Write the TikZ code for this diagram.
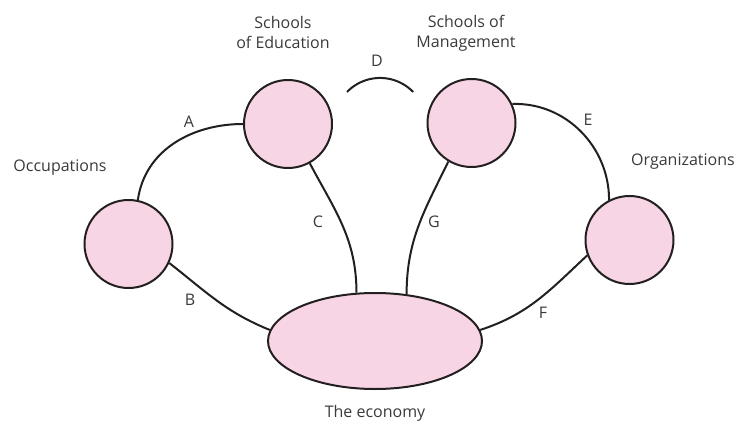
\documentclass[tikz,border=0pt]{standalone}
\usepackage{fontspec}
\setmainfont{Open Sans}
\usetikzlibrary{shapes.geometric}
\definecolor{pinkfill}{HTML}{F8D5E5}
\definecolor{txt}{HTML}{3A3A3A}
\definecolor{ink}{HTML}{231F20}
\begin{document}
\begin{tikzpicture}[x=1pt,y=-1pt,
  ball/.style={circle,draw=ink,line width=2pt,fill=pinkfill,minimum size=88pt,inner sep=0pt},
  eco/.style={ellipse,draw=ink,line width=2pt,fill=pinkfill,minimum width=214pt,minimum height=96pt,inner sep=0pt},
  link/.style={draw=ink,line width=2pt},
  lbl/.style={text=txt,font=\fontsize{16}{20}\selectfont,inner sep=0pt},
  captext/.style={text=txt,font=\fontsize{16}{20}\selectfont,align=center,inner sep=0pt}]
\useasboundingbox (0,0) rectangle (752,425);
\node[ball] (occ) at (128.5,244) {};
\node[ball] (soe) at (288,124) {};
\node[ball] (som) at (471.5,123) {};
\node[ball] (org) at (629.5,240) {};
\node[eco] (ec) at (375,341) {};
% captions
\node[captext] (tsoe) at (283,33) {Schools\\of Education};
\node[captext] (tsom) at (466,33) {Schools of\\Management};
\node[captext] (tocc) at (60,168) {Occupations};
\node[captext] (torg) at (683,162) {Organizations};
\node[captext] (tec) at (375,413) {The economy};
% connectors
\draw[link] (occ.78) to[out=82,in=180] (soe.180);
\draw[link] (occ.-25) to[out=-38,in=158] (ec.174);
\draw[link] (soe.-61) to[out=-62,in=90] (ec.111);
\draw[link] (som.-121) to[out=-116,in=90] (ec.56);
\draw[link] (som.25) to[out=2,in=90] (org.117);
\draw[link] (ec.6) to[out=18,in=-137] (org.-160);
\coordinate (d1) at (347,92);
\draw[link] (d1) arc[start angle=-136,end angle=-44,radius=46] coordinate (d2);
% labels
\node[lbl] (la) at (189,122) {A};
\node[lbl] (lb) at (190,300) {B};
\node[lbl] (lc) at (318,222) {C};
\node[lbl] (ld) at (377,61) {D};
\node[lbl] (le) at (588,120) {E};
\node[lbl] (lf) at (543,313) {F};
\node[lbl] (lg) at (434,222) {G};
\end{tikzpicture}
\end{document}
